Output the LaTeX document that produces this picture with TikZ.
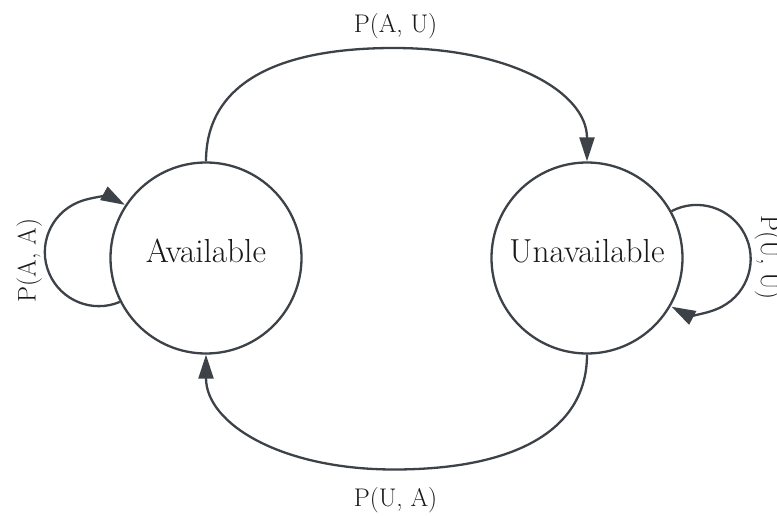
\documentclass[tikz,border=0pt]{standalone}
\usetikzlibrary{arrows.meta}
\definecolor{edgegray}{RGB}{61,66,73}
\definecolor{inkblack}{RGB}{25,25,25}
\begin{document}
\begin{tikzpicture}[x=1pt,y=1pt,
  state/.style={circle, draw=edgegray, line width=2.3pt, fill=white,
    minimum size=191pt, inner sep=0pt, text=inkblack,
    font=\fontsize{33.3}{40}\selectfont, text height=22pt, text depth=12.6pt},
  trans/.style={draw=edgegray, line width=2.3pt,
    -{Triangle[length=24pt,width=15pt]}},
  prob/.style={text=inkblack, font=\fontsize{25.5}{30}\selectfont,
    inner sep=0pt, anchor=base},
]
% canvas
\fill[white] (0,0) rectangle (777,-516);
\useasboundingbox (0,0) rectangle (777,-516);

% states
\node[state] (A) at (206,-258) {Available};
\node[state] (U) at (587,-258) {Unavailable};

% turning points of the long transitions
\coordinate (topmid) at (394,-48);
\coordinate (botmid) at (394,-469.5);

% A -> U over the top
\draw[trans] (A.north) .. controls +(0,75) and +(-122,0) .. (topmid)
             .. controls +(116,0) and +(0,69) .. (U.north);
% U -> A along the bottom
\draw[trans] (U.south) .. controls +(0,-75) and +(122,0) .. (botmid)
             .. controls +(-113,0) and +(0,-69) .. (A.south);

% self loops
\draw[trans] (A.207.24) arc[start angle=-67.05, end angle=-298.82, radius=54];
\draw[trans] (U.29.75) arc[start angle=117.75, end angle=-117.75, radius=54];

% transition probabilities
\node[prob] (lAU) at (395.5,-32.5) {P(A, U)};
\node[prob] (lUA) at (395.5,-506.7) {P(U, A)};
\node[prob, rotate=90] (lAA) at (35.7,-260.5) {P(A, A)};
\node[prob, rotate=-90] (lUU) at (761,-257.5) {P(U, U)};
\end{tikzpicture}
\end{document}
